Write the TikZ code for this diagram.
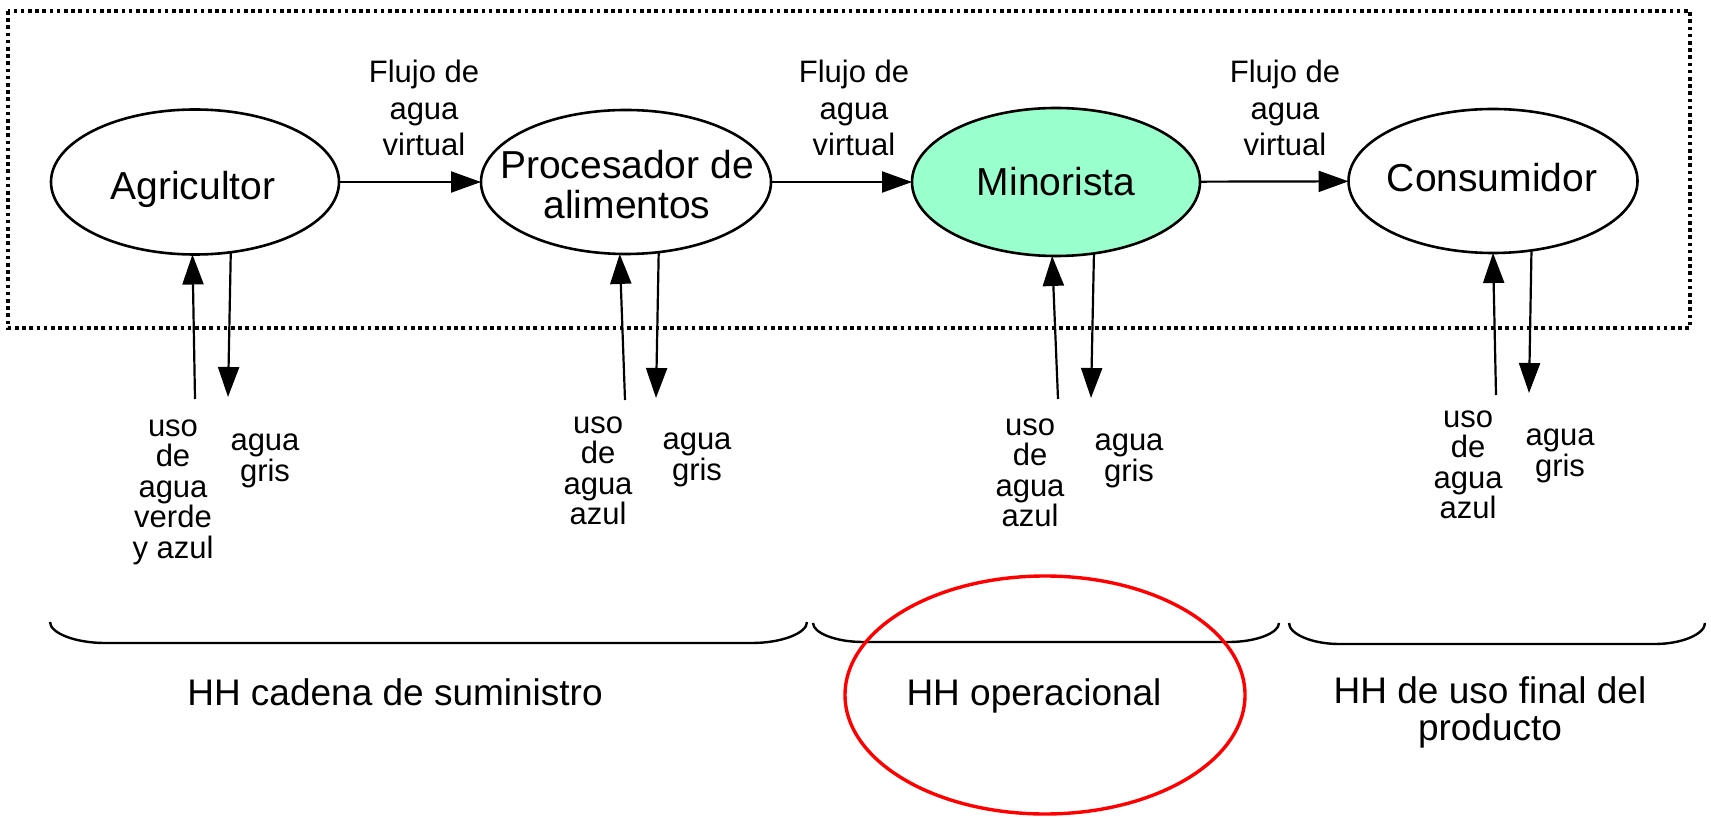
\documentclass[tikz,border=0pt]{standalone}
\usepackage{fontspec}
\setmainfont{Liberation Sans}
\usetikzlibrary{arrows.meta,shapes.geometric}
\definecolor{mint}{HTML}{99FFCC}
\begin{document}
\begin{tikzpicture}[x=0.5pt,y=-0.5pt,
  ell/.style={ellipse, draw, line width=1.3pt, inner sep=0pt, outer sep=0pt},
  nodetxt/.style={font=\fontsize{19.5}{20}\selectfont, align=center, inner sep=0pt},
  arr/.style={line width=1.1pt, -{Triangle[length=15pt,width=10.5pt]}},
  flow/.style={font=\fontsize{15.5}{18.25}\selectfont, align=center, inner sep=0pt},
  lbl/.style={font=\fontsize{15.5}{15.25}\selectfont, align=center, inner sep=0pt},
  hh/.style={font=\fontsize{18.5}{18.5}\selectfont, align=center, inner sep=0pt},
  bracepath/.style={line width=1.2pt},
  frame/.style={line width=1.7pt, dash pattern=on 1.8pt off 1.8pt}
]
\useasboundingbox (0,0) rectangle (1711,817);

% dotted frame
\draw[frame] (8,11) rectangle (1690,328);

% main nodes
\node[ell, minimum width=144pt, minimum height=72.5pt] (agr) at (195,182) {};
\node[ell, minimum width=145pt, minimum height=72pt] (proc) at (626,182) {};
\node[ell, fill=mint, minimum width=144pt, minimum height=74pt] (min) at (1056,182) {};
\node[ell, minimum width=144.5pt, minimum height=72pt] (con) at (1493,181) {};

\node[nodetxt] (agrt) at (193,189) {Agricultor};
\node[nodetxt] (proct) at (627,185) {Procesador de\\alimentos};
\node[nodetxt] (mint) at (1056,182) {Minorista};
\node[nodetxt] (cont) at (1492,178) {Consumidor};

% horizontal flows
\draw[arr] (agr) -- (proc);
\draw[arr] (proc) -- (min);
\draw[arr] (min) -- (con);

\node[flow] (f1) at (424,108) {Flujo de\\agua\\virtual};
\node[flow] (f2) at (854,108) {Flujo de\\agua\\virtual};
\node[flow] (f3) at (1285,108) {Flujo de\\agua\\virtual};

% vertical arrows
\coordinate (u1) at (195,399);
\coordinate (d1) at (228,397);
\coordinate (u2) at (625,400);
\coordinate (d2) at (656,398);
\coordinate (u3) at (1058,399);
\coordinate (d3) at (1091,398);
\coordinate (u4) at (1496,395);
\coordinate (d4) at (1529,393);

\draw[arr] (u1) -- (agr.-92);
\draw[arr] (agr.-63) -- (d1);
\draw[arr] (u2) -- (proc.-95);
\draw[arr] (proc.-65) -- (d2);
\draw[arr] (u3) -- (min.-93);
\draw[arr] (min.-62) -- (d3);
\draw[arr] (u4) -- (con.-90);
\draw[arr] (con.-61) -- (d4);

% bottom labels
\node[lbl] (l1) at (173,492) {uso\\de\\agua\\verde\\y azul};
\node[lbl] (g1) at (265,461) {agua\\gris};
\node[lbl] (l2) at (598,471) {uso\\de\\agua\\azul};
\node[lbl] (g2) at (697,460) {agua\\gris};
\node[lbl] (l3) at (1030,473) {uso\\de\\agua\\azul};
\node[lbl] (g3) at (1129,461) {agua\\gris};
\node[lbl] (l4) at (1468,465) {uso\\de\\agua\\azul};
\node[lbl] (g4) at (1560,456) {agua\\gris};

% braces
\draw[bracepath] (50,622) .. controls (50,633) and (75,643) .. (105,643) -- (752,643) .. controls (782,643) and (807,633) .. (807,622);
\draw[bracepath] (813,623) .. controls (813,633) and (836,642) .. (863,642) -- (1229,642) .. controls (1256,642) and (1279,633) .. (1279,623);
\draw[bracepath] (1289,623) .. controls (1289,634) and (1312,644) .. (1339,644) -- (1655,644) .. controls (1682,644) and (1705,634) .. (1705,623);

\node[hh] (h1) at (395,692) {HH cadena de suministro};
\node[hh] (h2) at (1034,696) {HH operacional};
\node[hh] (h3) at (1490,712) {HH de uso final del\\producto};

% red highlight
\node[ellipse, draw=red, line width=1.7pt, minimum width=200pt, minimum height=119pt, inner sep=0pt] (hl) at (1045,695) {};
\end{tikzpicture}
\end{document}
